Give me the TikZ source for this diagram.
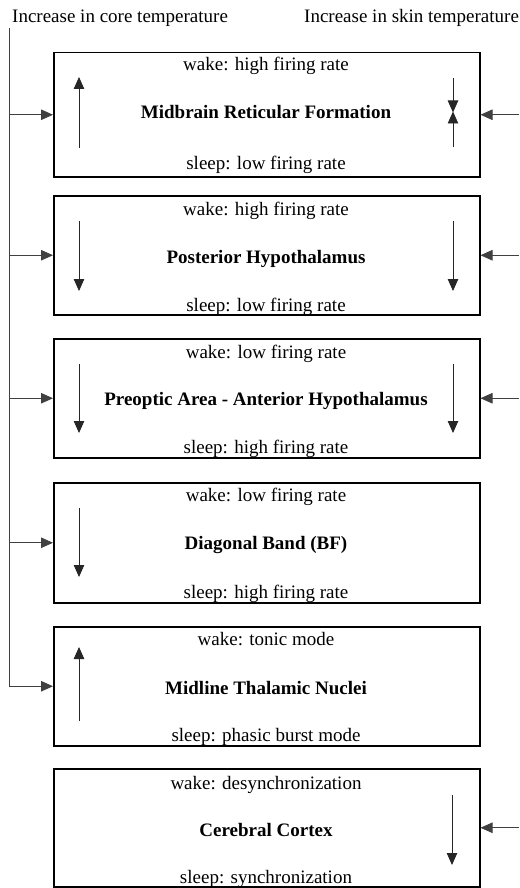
\documentclass[tikz,border=0pt]{standalone}
\usepackage{fontspec}
\setmainfont{Liberation Serif}
\usetikzlibrary{arrows.meta}
\begin{document}
\begin{tikzpicture}[x=1pt,y=-1pt,
 box/.style={draw,line width=1.5pt,minimum width=426pt,inner sep=0pt,anchor=north west},
 lbl/.style={font=\fontsize{19}{22}\selectfont,inner sep=0pt,anchor=base},
 ttl/.style={font=\fontsize{19}{22}\selectfont\bfseries,inner sep=0pt,anchor=base},
 conn/.style={draw=black!75,line width=0.8pt,-{Triangle[length=12pt,width=10.5pt]}},
 ind/.style={draw=black!85,line width=0.8pt,-{Triangle[length=12pt,width=10.5pt]}}
]
\useasboundingbox (0,0) rectangle (519,888);

% top labels
\node[lbl,anchor=base west] (core) at (12,23) {Increase in core temperature};
\node[lbl,anchor=base west] (skin) at (304,23) {Increase in skin temperature};

% boxes
\node[box,minimum height=124pt] (b1) at (53,52) {};
\node[box,minimum height=119pt] (b2) at (53,195) {};
\node[box,minimum height=119pt] (b3) at (53,338) {};
\node[box,minimum height=120pt] (b4) at (53,482) {};
\node[box,minimum height=119pt] (b5) at (53,626) {};
\node[box,minimum height=118pt] (b6) at (53,768) {};

% texts
\node[lbl] (w1) at (266,71) {wake: high firing rate};
\node[ttl] (t1) at (266,119) {Midbrain Reticular Formation};
\node[lbl] (s1) at (266,169) {sleep: low firing rate};

\node[lbl] (w2) at (266,215) {wake: high firing rate};
\node[ttl] (t2) at (266,263) {Posterior Hypothalamus};
\node[lbl] (s2) at (266,311) {sleep: low firing rate};

\node[lbl] (w3) at (266,358) {wake: low firing rate};
\node[ttl] (t3) at (266,405) {Preoptic Area - Anterior Hypothalamus};
\node[lbl] (s3) at (266,453) {sleep: high firing rate};

\node[lbl] (w4) at (266,501) {wake: low firing rate};
\node[ttl] (t4) at (266,549) {Diagonal Band (BF)};
\node[lbl] (s4) at (266,598) {sleep: high firing rate};

\node[lbl] (w5) at (266,645) {wake: tonic mode};
\node[ttl] (t5) at (266,694) {Midline Thalamic Nuclei};
\node[lbl] (s5) at (266,741) {sleep: phasic burst mode};

\node[lbl] (w6) at (266,789) {wake: desynchronization};
\node[ttl] (t6) at (266,836) {Cerebral Cortex};
\node[lbl] (s6) at (266,883) {sleep: synchronization};

% left spine (core temperature)
\coordinate (sp) at (9,28);
\draw[conn] (sp) |- (b5.west);
\draw[conn] (b1.west -| sp) -- (b1.west);
\draw[conn] (b2.west -| sp) -- (b2.west);
\draw[conn] (b3.west -| sp) -- (b3.west);
\draw[conn] (b4.west -| sp) -- (b4.west);

% right inputs (skin temperature)
\coordinate (re) at (519,0);
\draw[conn] (b1.east -| re) -- (b1.east);
\draw[conn] (b2.east -| re) -- (b2.east);
\draw[conn] (b3.east -| re) -- (b3.east);
\draw[conn] (b6.east -| re) -- (b6.east);

% indicator arrows
\draw[ind] (79,148) -- (79,77);
\draw[ind] (453,78) -- (453,112.5);
\draw[ind] (453,147) -- (453,111.5);
\draw[ind] (79,221) -- (79,291);
\draw[ind] (453,221) -- (453,291);
\draw[ind] (79,364) -- (79,433);
\draw[ind] (453,364) -- (453,433);
\draw[ind] (79,508) -- (79,577);
\draw[ind] (79,721) -- (79,647);
\draw[ind] (452,795) -- (452,865);
\end{tikzpicture}
\end{document}
